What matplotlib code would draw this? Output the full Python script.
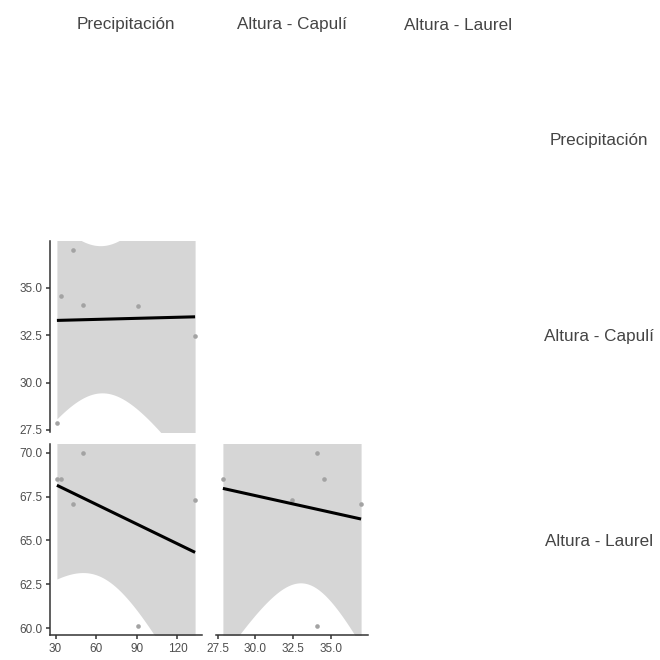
import numpy as np
import matplotlib
matplotlib.use("Agg")
import matplotlib.pyplot as plt

plt.rcParams["font.family"] = ["Liberation Sans", "DejaVu Sans"]

# Observations
precipitacion = [31, 34, 43, 50, 91, 133]
altura_capuli = [27.85, 34.55, 37.0, 34.1, 34.05, 32.45]
altura_laurel = [68.5, 68.5, 67.1, 70.0, 60.1, 67.3]

variables = ["Precipitación", "Altura - Capulí", "Altura - Laurel"]
data = [precipitacion, altura_capuli, altura_laurel]
ticks = [[30, 60, 90, 120], [27.5, 30.0, 32.5, 35.0], [60.0, 62.5, 65.0, 67.5, 70.0]]
tick_labels = [["30", "60", "90", "120"],
               ["27.5", "30.0", "32.5", "35.0"],
               ["60.0", "62.5", "65.0", "67.5", "70.0"]]

T975_DF4 = 2.776  # Student t quantile, 95% two-sided, 4 degrees of freedom

W = H = 660
fig = plt.figure(figsize=(W / 100, H / 100), dpi=100)

col_left = [50, 216, 382]
col_w = 152
row_top = [45, 241, 444]
row_h = 191


def px_axes(left, top, w, h):
    return fig.add_axes([left / W, 1 - (top + h) / H, w / W, h / H])


def expand(v, f=0.05):
    lo, hi = min(v), max(v)
    r = hi - lo
    return lo - f * r, hi + f * r


def lm_band(x, y, n_grid=80):
    x = np.asarray(x, float)
    y = np.asarray(y, float)
    n = len(x)
    b1, b0 = np.polyfit(x, y, 1)
    resid = y - (b0 + b1 * x)
    s = np.sqrt(np.sum(resid ** 2) / (n - 2))
    xm = x.mean()
    sxx = np.sum((x - xm) ** 2)
    xg = np.linspace(x.min(), x.max(), n_grid)
    yg = b0 + b1 * xg
    se = s * np.sqrt(1 / n + (xg - xm) ** 2 / sxx)
    return xg, yg, yg - T975_DF4 * se, yg + T975_DF4 * se


axis_col = "#333333"
text_col = "#4d4d4d"
strip_col = "#444444"

for i in range(3):
    for j in range(3):
        if j >= i:
            continue
        ax = px_axes(col_left[j], row_top[i] if i != 1 else 241, col_w, row_h)
        xv, yv = data[j], data[i]
        xg, yg, lo, hi = lm_band(xv, yv)
        ax.fill_between(xg, lo, hi, color="#d6d6d6", lw=0, zorder=1)
        ax.scatter(xv, yv, s=11, color="#a3a3a3", lw=0, zorder=2)
        ax.plot(xg, yg, color="black", lw=2.2, zorder=3, solid_capstyle="butt")
        ax.set_xlim(*expand(xv))
        ax.set_ylim(*expand(yv))
        for s in ax.spines.values():
            s.set_visible(False)
        ax.tick_params(colors=axis_col, labelcolor=text_col, labelsize=8.5,
                       length=3, width=1.1, pad=2.5)
        if j == 0:
            ax.spines["left"].set_visible(True)
            ax.spines["left"].set_color(axis_col)
            ax.spines["left"].set_linewidth(1.1)
            ax.set_yticks(ticks[i])
            ax.set_yticklabels(tick_labels[i])
        else:
            ax.set_yticks([])
        if i == 2:
            ax.spines["bottom"].set_visible(True)
            ax.spines["bottom"].set_color(axis_col)
            ax.spines["bottom"].set_linewidth(1.1)
            ax.set_xticks(ticks[j])
            ax.set_xticklabels(tick_labels[j])
        else:
            ax.set_xticks([])
        ax.patch.set_alpha(0)

# Column strip labels along the top
for j, name in enumerate(variables):
    fig.text((col_left[j] + col_w / 2) / W, 1 - 25 / H, name, ha="center",
             va="center", fontsize=12.3, color=strip_col)

# Row strip labels along the right side
row_centers = [140, 337, 541]
for i, name in enumerate(variables):
    fig.text(599 / W, 1 - row_centers[i] / H, name, ha="center",
             va="center", fontsize=12.3, color=strip_col)

fig.savefig("out.png", dpi=100)
